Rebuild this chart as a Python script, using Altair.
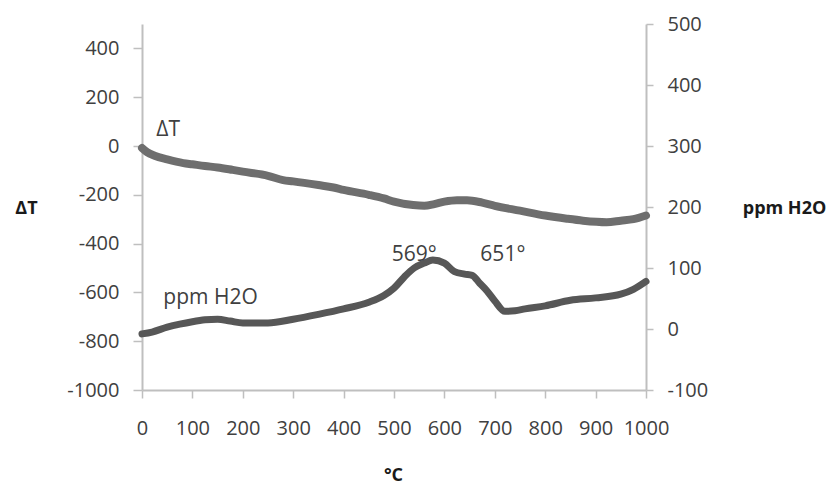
import altair as alt
import pandas as pd

# Delta T series (left axis)
dt_temp = [0, 10, 25, 50, 82, 100, 125, 150, 180, 200, 250, 280, 300, 350, 380, 400, 450,
           480, 500, 538, 560, 580, 600, 625, 645, 675, 700, 750, 800, 843, 875, 922, 950, 975, 1000]
dt_vals = [-8, -25, -40, -55, -70, -75, -82, -88, -98, -105, -122, -140, -145, -160, -170, -180, -200,
           -215, -228, -242, -245, -238, -228, -222, -222, -232, -245, -265, -285, -298, -306, -312, -306, -300, -285]

# ppm H2O series (right axis)
h2o_temp = [0, 20, 50, 75, 100, 125, 150, 175, 200, 250, 300, 350, 400, 450, 480, 500, 520, 540,
            560, 577, 600, 620, 640, 655, 670, 685, 700, 720, 740, 760, 800, 850, 900, 950, 975, 1000]
h2o_vals = [-8, -5, 3, 8, 12, 15, 16, 13, 10, 10, 16, 24, 33, 44, 55, 67, 85, 100,
            108, 113, 108, 94, 90, 88, 75, 62, 46, 29, 30, 33, 38, 47, 51, 57, 65, 78]

# Annotations (placed in data coordinates of the left axis)
ann_text = ["ΔT", "ppm H2O", "569°", "651°"]
ann_x = [52, 136, 540, 716]
ann_y = [66, -624, -448, -448]

x_ticks = list(range(0, 1001, 100))
left_ticks = list(range(-1000, 401, 200))
right_ticks = list(range(-100, 501, 100))

dt_df = pd.DataFrame({"t": dt_temp, "v": dt_vals})
h2o_df = pd.DataFrame({"t": h2o_temp, "v": h2o_vals})
ann_df = pd.DataFrame({"t": ann_x, "v": ann_y, "label": ann_text})

FONT = "Open Sans"
LBL = 20
x_scale = alt.Scale(domain=[0, 1000], nice=False, zero=False)
left_scale = alt.Scale(domain=[-1000, 500], nice=False, zero=False)
right_scale = alt.Scale(domain=[-100, 500], nice=False, zero=False)

x_axis = alt.Axis(
    values=x_ticks, title="°C", tickSize=8, labelPadding=20, labelFontSize=LBL,
    labelExpr="'' + datum.value", labelOverlap=False, labelFlush=False,
    titleFontSize=18, titleFontWeight="bold", titleX=251, titleY=85,
    titleAlign="center", titleBaseline="middle", titleColor="#1a1a1a")
x_enc = alt.X("t:Q", scale=x_scale, axis=x_axis)

dt_line = alt.Chart(dt_df).mark_line(
    color="#6e6e6e", strokeWidth=8, strokeCap="round", strokeJoin="round", interpolate="monotone"
).encode(
    x=x_enc,
    y=alt.Y("v:Q", scale=left_scale, axis=alt.Axis(
        values=left_ticks, title="ΔT", orient="left", tickSize=9, labelPadding=14,
        labelFontSize=LBL, labelExpr="'' + datum.value", labelOverlap=False, labelFlush=False,
        titleAngle=0, titleX=-116, titleY=184, titleAlign="center",
        titleBaseline="middle", titleFontSize=18, titleFontWeight="bold", titleColor="#1a1a1a")),
)

ann = alt.Chart(ann_df).mark_text(
    font=FONT, fontSize=21, color="#404040", align="center", baseline="middle"
).encode(
    x=x_enc,
    y=alt.Y("v:Q", scale=left_scale, axis=None),
    text="label:N",
)

h2o_line = alt.Chart(h2o_df).mark_line(
    color="#575757", strokeWidth=7, strokeCap="round", strokeJoin="round", interpolate="monotone"
).encode(
    x=x_enc,
    y=alt.Y("v:Q", scale=right_scale, axis=alt.Axis(
        values=right_ticks, title="ppm H2O", orient="right", tickSize=7, labelPadding=14,
        labelFontSize=LBL, labelExpr="'' + datum.value", labelOverlap=False, labelFlush=False,
        titleAngle=0, titleX=138, titleY=184, titleAlign="center",
        titleBaseline="middle", titleFontSize=18, titleFontWeight="bold", titleColor="#1a1a1a")),
)

chart = alt.layer(dt_line, h2o_line, ann).resolve_scale(y="independent").properties(
    width=504, height=366,
    autosize=alt.AutoSizeParams(type="none"),
    padding={"left": 142, "top": 24, "right": 191, "bottom": 95},
    background="white",
).configure_view(stroke=None).configure_axis(
    grid=False, domainColor="#bfbfbf", domainWidth=2, tickColor="#bfbfbf", tickWidth=1.5,
    labelColor="#404040", labelFont=FONT, titleFont=FONT,
)

chart.save("out.html", embed_options={"renderer": "svg", "actions": False})
